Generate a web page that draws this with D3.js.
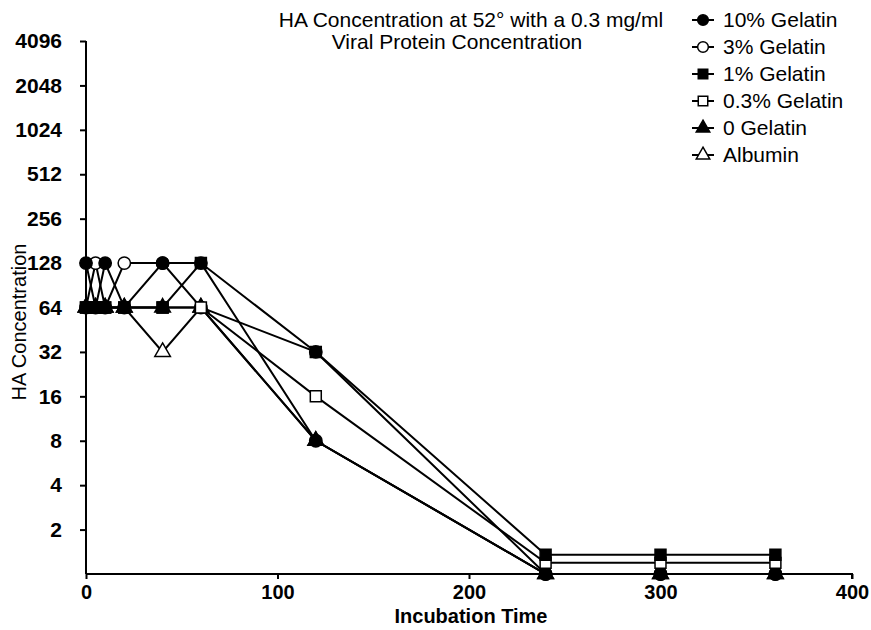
<!DOCTYPE html>
<html>
<head>
<meta charset="utf-8">
<script src="https://cdn.jsdelivr.net/npm/d3@7"></script>
<style>
  body { margin: 0; background: #fff; }
  svg { display: block; font-family: "Liberation Sans", Arial, sans-serif; }
</style>
</head>
<body>
<div id="chart"></div>
<script>
// incubation times (x) and HA concentration per series (y)
var times = [0, 5, 10, 20, 40, 60, 120, 240, 300, 360];
var gel10 = [128, 64, 128, 64, 128, 128, 8, 1, 1, 1];
var gel3 = [64, 128, 64, 128, 128, 64, 32, 1, 1, 1];
var gel1 = [64, 64, 64, 64, 64, 128, 32, 1.35, 1.35, 1.35];
var gel03 = [64, 64, 64, 64, 64, 64, 16, 1.19, 1.19, 1.19];
var gel0 = [64, 64, 64, 64, 64, 64, 8, 1, 1, 1];
var albumin = [64, 64, 64, 64, 32, 64, 8, 1, 1, 1];

var seriesNames = ["10% Gelatin", "3% Gelatin", "1% Gelatin", "0.3% Gelatin", "0 Gelatin", "Albumin"];
var yTicks = [2, 4, 8, 16, 32, 64, 128, 256, 512, 1024, 2048, 4096];
var xTicks = [0, 100, 200, 300, 400];

var series = [
  { name: seriesNames[0], values: gel10, shape: d3.symbolCircle, fill: "#000" },
  { name: seriesNames[1], values: gel3, shape: d3.symbolCircle, fill: "#fff" },
  { name: seriesNames[2], values: gel1, shape: d3.symbolSquare, fill: "#000" },
  { name: seriesNames[3], values: gel03, shape: d3.symbolSquare, fill: "#fff" },
  { name: seriesNames[4], values: gel0, shape: d3.symbolTriangle, fill: "#000" },
  { name: seriesNames[5], values: albumin, shape: d3.symbolTriangle, fill: "#fff" }
];
function symSize(s) { return s === d3.symbolCircle ? 120 : s === d3.symbolSquare ? 120 : 105; }

var width = 871, height = 630;
var x = d3.scaleLinear().domain([0, 400]).range([86, 852]);
var y = d3.scaleLog().base(2).domain([1, 4096]).range([574, 41]);

var svg = d3.select("#chart").append("svg")
    .attr("width", width)
    .attr("height", height);

// axes
var yAxis = svg.append("g")
    .attr("transform", "translate(" + x(0) + ",0)")
    .call(d3.axisLeft(y).tickValues(yTicks).tickFormat(d3.format("d")).tickSize(6).tickPadding(18));
var xAxis = svg.append("g")
    .attr("transform", "translate(0," + y(1) + ")")
    .call(d3.axisBottom(x).tickValues(xTicks).tickSize(5).tickPadding(6));

[xAxis, yAxis].forEach(function(a) {
  a.select(".domain").attr("stroke", "#000").attr("stroke-width", 2);
  a.selectAll(".tick line").attr("stroke", "#000").attr("stroke-width", 2);
  a.selectAll(".tick text")
    .style("font-family", '"Liberation Sans", Arial, sans-serif')
    .style("font-weight", "700")
    .attr("fill", "#000");
});
yAxis.selectAll(".tick text").style("font-size", "21px");
xAxis.selectAll(".tick text").style("font-size", "20px");
// no extra tick stub lines past the axis ends
yAxis.select(".domain").attr("d", "M0," + y(4096) + "V" + y(1));
xAxis.select(".domain").attr("d", "M" + x(0) + ",0H" + x(400) + "V5");

// lines
var line = d3.line()
    .x(function(d, i) { return x(times[i]); })
    .y(function(d) { return y(d); });

svg.selectAll(".series-line")
    .data(series)
    .enter().append("path")
    .attr("class", "series-line")
    .attr("d", function(d) { return line(d.values); })
    .attr("fill", "none")
    .attr("stroke", "#000")
    .attr("stroke-width", 2);

// markers, drawn in an order so the visible ones on top match the scan
var drawOrder = [5, 1, 0, 4, 3, 2];
drawOrder.forEach(function(k) {
  var s = series[k];
  svg.append("g").selectAll("path")
    .data(s.values)
    .enter().append("path")
    .attr("transform", function(d, i) { return "translate(" + x(times[i]) + "," + y(d) + ")"; })
    .attr("d", d3.symbol().type(s.shape).size(symSize(s.shape)))
    .attr("fill", s.fill)
    .attr("stroke", "#000")
    .attr("stroke-width", 1.5);
});

// title
svg.append("text")
    .attr("x", 471).attr("y", 27)
    .attr("text-anchor", "middle")
    .style("font-size", "21px")
    .text("HA Concentration at 52\u00b0 with a 0.3 mg/ml");
svg.append("text")
    .attr("x", 457).attr("y", 49)
    .attr("text-anchor", "middle")
    .style("font-size", "21px")
    .text("Viral Protein Concentration");

// axis titles
svg.append("text")
    .attr("x", 471).attr("y", 623)
    .attr("text-anchor", "middle")
    .style("font-size", "20px")
    .style("font-weight", "700")
    .text("Incubation Time");
svg.append("text")
    .attr("transform", "translate(26,322) rotate(-90)")
    .attr("text-anchor", "middle")
    .style("font-size", "20px")
    .text("HA Concentration");

// legend
var legend = svg.selectAll(".legend").data(series)
    .enter().append("g")
    .attr("class", "legend")
    .attr("transform", function(d, i) { return "translate(703," + (20 + i * 27) + ")"; });
legend.append("line")
    .attr("x1", -11).attr("x2", 11)
    .attr("stroke", "#000").attr("stroke-width", 2);
legend.append("path")
    .attr("d", function(d) { return d3.symbol().type(d.shape).size(symSize(d.shape) * 0.75)(); })
    .attr("fill", function(d) { return d.fill; })
    .attr("stroke", "#000")
    .attr("stroke-width", 1.5);
legend.append("text")
    .attr("x", 20).attr("dy", "0.35em")
    .style("font-size", "21px")
    .text(function(d) { return d.name; });
</script>
</body>
</html>
